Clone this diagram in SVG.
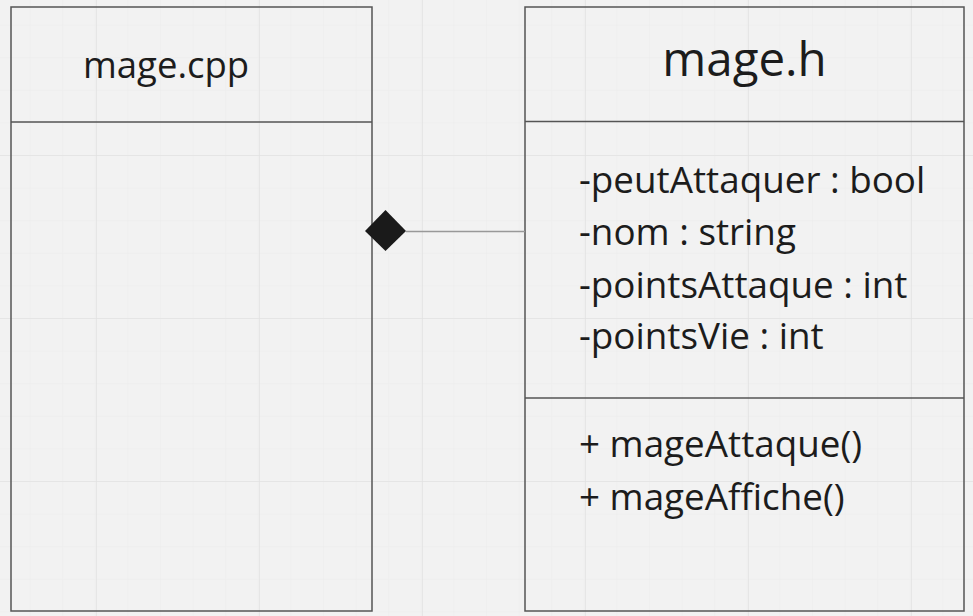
<svg xmlns="http://www.w3.org/2000/svg" width="973" height="616" viewBox="0 0 973 616">
<defs>
<pattern id="minor" x="-3" y="-8" width="32.6" height="32.6" patternUnits="userSpaceOnUse">
<path d="M0 0H32.6M0 0V32.6" fill="none" stroke="#ececec" stroke-width="1"/>
</pattern>
<pattern id="major" x="96" y="155" width="163" height="163" patternUnits="userSpaceOnUse">
<path d="M0 0H163M0 0V163" fill="none" stroke="#e2e2e2" stroke-width="1.5"/>
</pattern>
</defs>
<style>
.box{fill:none;stroke:#555;stroke-width:1.5}
.div{stroke:#555;stroke-width:1.5}
.t{font-family:"Open Sans","Noto Sans",sans-serif;fill:#1c1c1c}
.a{font-size:36.8px}
</style>
<rect width="973" height="616" fill="#f2f2f2"/>
<rect width="973" height="616" fill="url(#minor)"/>
<rect width="973" height="616" fill="url(#major)"/>
<g id="mage-cpp">
<rect class="box" x="11" y="7" width="361" height="604"/>
<line class="div" x1="11" y1="122" x2="372" y2="122"/>
<text class="t" x="83" y="78" font-size="36.5">mage.cpp</text>
</g>
<g id="mage-h">
<rect class="box" x="525" y="7" width="439" height="604"/>
<line class="div" x1="525" y1="121.5" x2="964" y2="121.5"/>
<line class="div" x1="525" y1="398" x2="964" y2="398"/>
<text class="t" x="744.5" y="76" font-size="47.5" text-anchor="middle">mage.h</text>
<text class="t a" x="579" y="192.5">-peutAttaquer : bool</text>
<text class="t a" x="579" y="245">-nom : string</text>
<text class="t a" x="579" y="297.5">-pointsAttaque : int</text>
<text class="t a" x="579" y="349">-pointsVie : int</text>
<text class="t a" x="579" y="457">+ mageAttaque()</text>
<text class="t a" x="579" y="510">+ mageAffiche()</text>
</g>
<g id="connectors">
<line x1="406" y1="231.5" x2="525" y2="231.5" stroke="#999" stroke-width="1.5"/>
<polygon points="365,231 385.5,210 406,231 385.5,251" fill="#1a1a1a"/>
</g>
</svg>
